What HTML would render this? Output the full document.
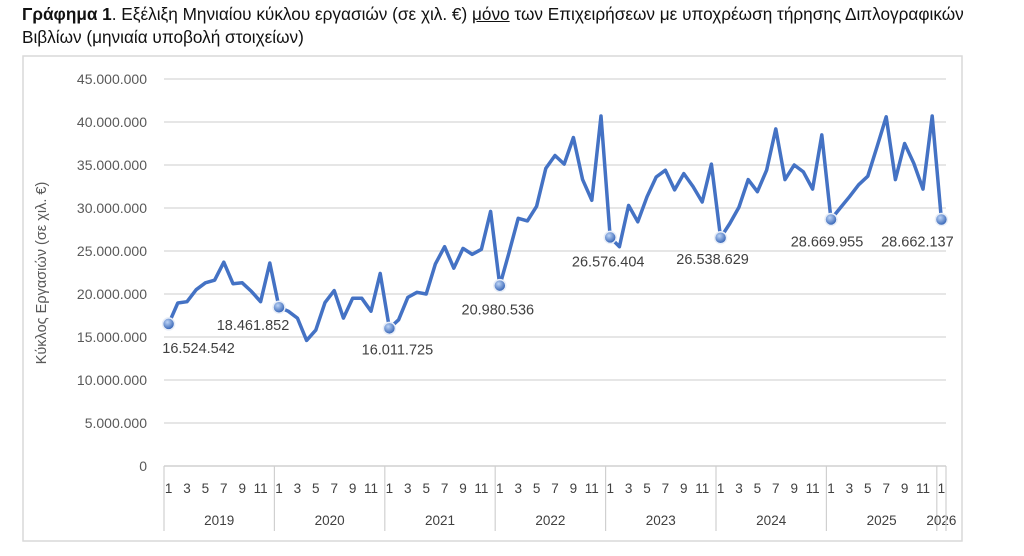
<!DOCTYPE html>
<html><head><meta charset="utf-8">
<style>
html,body{margin:0;padding:0;background:#fff;width:1024px;height:556px;overflow:hidden}
body{font-family:"Liberation Sans","Noto Sans CJK SC",sans-serif;}
.title{position:absolute;left:22px;top:3px;font-size:17.2px;line-height:23px;color:#111;white-space:nowrap}
svg{position:absolute;left:0;top:0}
</style></head>
<body>
<div class="title"><b>Γράφημα 1</b>. Εξέλιξη Μηνιαίου κύκλου εργασιών (σε χιλ. €) <u>μόνο</u> των Επιχειρήσεων με υποχρέωση τήρησης Διπλογραφικών<br>Βιβλίων (μηνιαία υποβολή στοιχείων)</div>
<svg id="chart" width="1024" height="556"></svg>
<script>
const years = ["2019","2020","2021","2022","2023","2024","2025","2026"];
const monthTicks = ["1","3","5","7","9","11"];
const yTicks = [0,5,10,15,20,25,30,35,40,45];
const values = [
16.52,18.95,19.1,20.5,21.3,21.6,23.7,21.2,21.3,20.3,19.1,23.6,
18.46,18.0,17.2,14.6,15.8,19.0,20.4,17.2,19.5,19.5,18.0,22.4,
16.01,17.0,19.6,20.2,20.0,23.5,25.5,23.0,25.3,24.6,25.2,29.6,
20.98,24.8,28.8,28.5,30.2,34.6,36.1,35.1,38.2,33.3,30.9,40.7,
26.58,25.5,30.3,28.4,31.3,33.6,34.4,32.1,34.0,32.5,30.7,35.1,
26.54,28.2,30.1,33.3,31.9,34.4,39.2,33.3,35.0,34.2,32.2,38.5,
28.67,30.0,31.3,32.7,33.7,37.1,40.6,33.3,37.5,35.2,32.2,40.7,
28.66
];
const labelIdx = [0,12,24,36,48,60,72,84];
const labelText = ["16.524.542","18.461.852","16.011.725","20.980.536","26.576.404","26.538.629","28.669.955","28.662.137"];
const labelDx = [30,-26,8,-2,-2,-8,-4,-24];
const labelDy = [24,18,21,24,24,21,22,22];

const NS="http://www.w3.org/2000/svg";
const svg=document.getElementById('chart');
const X0=164,X1=946,Y0=466,Y45=79;
const n=85;
const cw=(X1-X0)/n;
const xs=i=>X0+(i+0.5)*cw;
const ys=v=>Y0-(v/45)*(Y0-Y45);
function mk(t,a,name,parent){const e=document.createElementNS(NS,t);for(const k in a)e.setAttribute(k,a[k]);


(parent||svg).appendChild(e);return e;}
mk('rect',{x:23,y:56,width:939,height:485,fill:'none',stroke:'#d9d9d9','stroke-width':1.5},'chart-frame');
yTicks.forEach(t=>{
  const y=ys(t);
  mk('line',{x1:X0,x2:X1,y1:y,y2:y,stroke:t===0?'#d0d0d0':'#dedede','stroke-width':1.5},'gridline');
  const tx=mk('text',{x:147,y:y+5,'text-anchor':'end','font-size':14,fill:'#595959'},'y-tick-label');
  tx.textContent=t===0?'0':(t+'.000.000');
});
const yt=mk('text',{x:0,y:0,transform:'translate(46,273) rotate(-90)','text-anchor':'middle','font-size':14.5,fill:'#595959'},'y-axis-title');
yt.textContent='Κύκλος Εργασιών (σε χιλ. €)';
for(let yI=0;yI<years.length;yI++){
  const start=yI*12, cnt=Math.min(12,n-start);
  const xb=X0+start*cw;
  mk('line',{x1:xb,x2:xb,y1:Y0,y2:531,stroke:'#d0d0d0','stroke-width':1.2},'year-separator');
  for(let m=0;m<cnt;m+=2){
    const t=mk('text',{x:xs(start+m),y:493,'text-anchor':'middle','font-size':13.5,fill:'#404040'},'month-tick-label');
    t.textContent=monthTicks[m/2];
  }
  const yl=mk('text',{x:X0+(start+cnt/2)*cw,y:525,'text-anchor':'middle','font-size':13.5,fill:'#404040'},'year-label');
  yl.textContent=years[yI];
}
mk('line',{x1:X1,x2:X1,y1:Y0,y2:531,stroke:'#d0d0d0','stroke-width':1.2},'year-separator');
const pts=values.map((v,i)=>xs(i).toFixed(1)+','+ys(v).toFixed(1)).join(' ');
mk('polyline',{points:pts,fill:'none',stroke:'#4472c4','stroke-width':3.5,'stroke-linejoin':'round'},'turnover-line');
const defs=mk('defs',{},'defs');
const g=mk('radialGradient',{id:'mg',cx:'40%',cy:'35%',r:'65%'},'marker-gradient',defs);
mk('stop',{offset:'0%','stop-color':'#bcd3f5'},'grad-stop',g);
mk('stop',{offset:'100%','stop-color':'#2f5fb3'},'grad-stop',g);
labelIdx.forEach((i,k)=>{
  const x=xs(i),y=ys(values[i]);
  mk('circle',{cx:x,cy:y,r:6,fill:'url(#mg)',stroke:'#e8eef8','stroke-width':1.5},'data-marker');
  const t=mk('text',{x:x+labelDx[k],y:y+labelDy[k]+5,'text-anchor':'middle','font-size':14.5,fill:'#404040'},'data-label');
  t.textContent=labelText[k];
});
</script>
</body></html>
